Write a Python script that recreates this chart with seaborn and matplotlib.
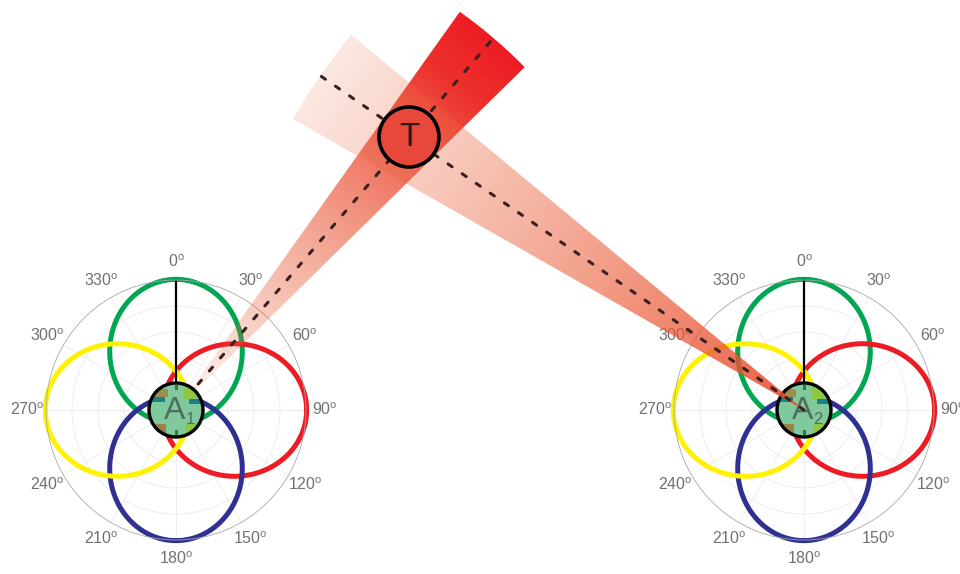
import numpy as np
import matplotlib.pyplot as plt
import seaborn as sns
from matplotlib.patches import Circle, Polygon, Rectangle

sns.set_style('white')
plt.rcParams['font.family'] = ['Liberation Sans', 'DejaVu Sans']
plt.rcParams['mathtext.fontset'] = 'custom'
plt.rcParams['mathtext.rm'] = 'Liberation Sans'

# antenna lobes: pointing direction (deg clockwise from north) and colour
lobe_dirs = [0, 90, 180, 270]
lobe_colors = ['#00A651', '#ED1C24', '#2E3192', '#FFF200']
# lobe ellipse, in units of the polar radius
lobe_offset = 0.45
lobe_along = 0.555
lobe_across = 0.51

tick_angles = list(range(0, 360, 30))
tick_labels = [f'{a}$^{{\\rm o}}$' for a in tick_angles]

# stations and target, pixel coords of the picture
station_subs = ['1', '2']
station_xy = [(176, 410), (804, 410)]
target_xy = (409, 137)
beam_len = [489, 588]
beam_half = [5.0, 5.0]
beam_red_far = [True, False]
beam_deep = [(237, 28, 36), (232, 60, 40)]
beam_pale = (235, 100, 60)

W, H = 960, 574
R = 130  # polar radius in px

fig = plt.figure(figsize=(W / 100, H / 100), dpi=100)

# ---- the two polar plots
for (cx, cy) in station_xy:
    pax = fig.add_axes([(cx - R) / W, (H - cy - R) / H, 2 * R / W, 2 * R / H],
                       projection='polar')
    pax.set_theta_zero_location('N')
    pax.set_theta_direction(-1)
    t = np.linspace(0, 2 * np.pi, 400)
    xl = lobe_offset + lobe_along * np.cos(t)
    yl = lobe_across * np.sin(t)
    for d, c in zip(lobe_dirs, lobe_colors):
        th = np.unwrap(np.deg2rad(d) + np.arctan2(yl, xl))
        r = np.hypot(xl, yl)
        sns.lineplot(x=th, y=r, ax=pax, sort=False, estimator=None,
                     color=c, lw=3.6)
    pax.plot([0, 0], [0, 1], color='black', lw=1.6)
    for ln in pax.lines:
        ln.set_clip_on(False)
    pax.set_rlim(0, 1)
    pax.set_rgrids([0.2, 0.4, 0.6, 0.8], labels=[])
    pax.set_thetagrids(tick_angles, tick_labels)
    pax.tick_params(axis='x', labelsize=11.5, labelcolor='#707070', pad=3)
    pax.grid(color='#ebebeb', lw=0.6)
    pax.spines['polar'].set_color('#a8a8a8')
    pax.spines['polar'].set_linewidth(0.6)
    pax.set_xlabel('')
    pax.set_ylabel('')

# ---- overlay in pixel coordinates
ov = fig.add_axes([0, 0, 1, 1])
ov.set_zorder(5)
ov.patch.set_visible(False)
ov.axis('off')

for k, (sx, sy) in enumerate(station_xy):
    phi = np.arctan2(target_xy[1] - sy, target_xy[0] - sx)
    L = beam_len[k]
    h = np.deg2rad(beam_half[k])
    arc = np.linspace(phi - h, phi + h, 60)
    poly = np.vstack([[sx, sy], np.c_[sx + L * np.cos(arc), sy + L * np.sin(arc)]])
    x0, y0 = poly.min(axis=0)
    x1, y1 = poly.max(axis=0)
    X, Y = np.meshgrid(np.arange(x0, x1 + 1), np.arange(y0, y1 + 1))
    tt = np.clip(((X - sx) * np.cos(phi) + (Y - sy) * np.sin(phi)) / L, 0, 1)
    s = tt if beam_red_far[k] else 0.1 + 0.7 * (1 - tt)
    pale = np.array(beam_pale) / 255
    deep = np.array(beam_deep[k]) / 255
    img = np.zeros(X.shape + (4,))
    for ch in range(3):
        img[..., ch] = pale[ch] + (deep[ch] - pale[ch]) * s ** 2.5
    img[..., 3] = np.clip(0.04 + 1.1 * s, 0, 1)
    im = ov.imshow(img, extent=(x0, x1, y0, y1), origin='lower',
                   interpolation='bilinear', zorder=2, aspect='auto')
    clip = Polygon(poly, closed=True, facecolor='none', edgecolor='none')
    ov.add_patch(clip)
    im.set_clip_path(clip)
    # dashed centre line
    ov.plot([sx, sx + L * np.cos(phi)], [sy, sy + L * np.sin(phi)],
            color='#3a2020', lw=2.2, ls=(0, (1.6, 4)), dash_capstyle='round',
            zorder=3)

# station circles
for k, (sx, sy) in enumerate(station_xy):
    z = 4 if k == 0 else 1.5
    circ = Circle((sx, sy), 27, facecolor='#80C99C', edgecolor='none', zorder=z)
    ov.add_patch(circ)
    bits = [(-22, -21, 14, 8, '#9C8E4E'), (-27, -13, 16, 5, '#1E7F8C'),
            (8, -23, 12, 12, '#8DC63F'), (13, -11, 14, 5, '#1E7F8C'),
            (-22, 14, 12, 10, '#9C8246'), (10, 14, 12, 10, '#8DC63F'),
            (-1, -25, 2.5, 5, '#2E7A4A'), (-1, 20, 2.5, 6, '#2E7A4A')]
    for bx, by, bw, bh, bc in bits:
        rect = Rectangle((sx + bx, sy + by), bw, bh, facecolor=bc,
                         edgecolor='none', zorder=z)
        ov.add_patch(rect)
        rect.set_clip_path(circ)
    ov.add_patch(Circle((sx, sy), 27, facecolor='none', edgecolor='black',
                        lw=2.4, zorder=z))
    ov.text(sx - 1, sy + 1, 'A', fontsize=23, color='#4E6E5C',
            ha='center', va='center', zorder=z)
    ov.text(sx + 14, sy + 9, station_subs[k], fontsize=12, color='#4E6E5C',
            ha='center', va='center', zorder=z)

# target
ov.add_patch(Circle(target_xy, 30, facecolor='#E8483A', edgecolor='black',
                    lw=2.6, zorder=6))
ov.text(target_xy[0], target_xy[1] + 1, 'T', fontsize=24, color='#2a1a1a',
        ha='center', va='center', zorder=7)

ov.set_xlim(0, W)
ov.set_ylim(H, 0)

fig.savefig('out.png', dpi=100)
